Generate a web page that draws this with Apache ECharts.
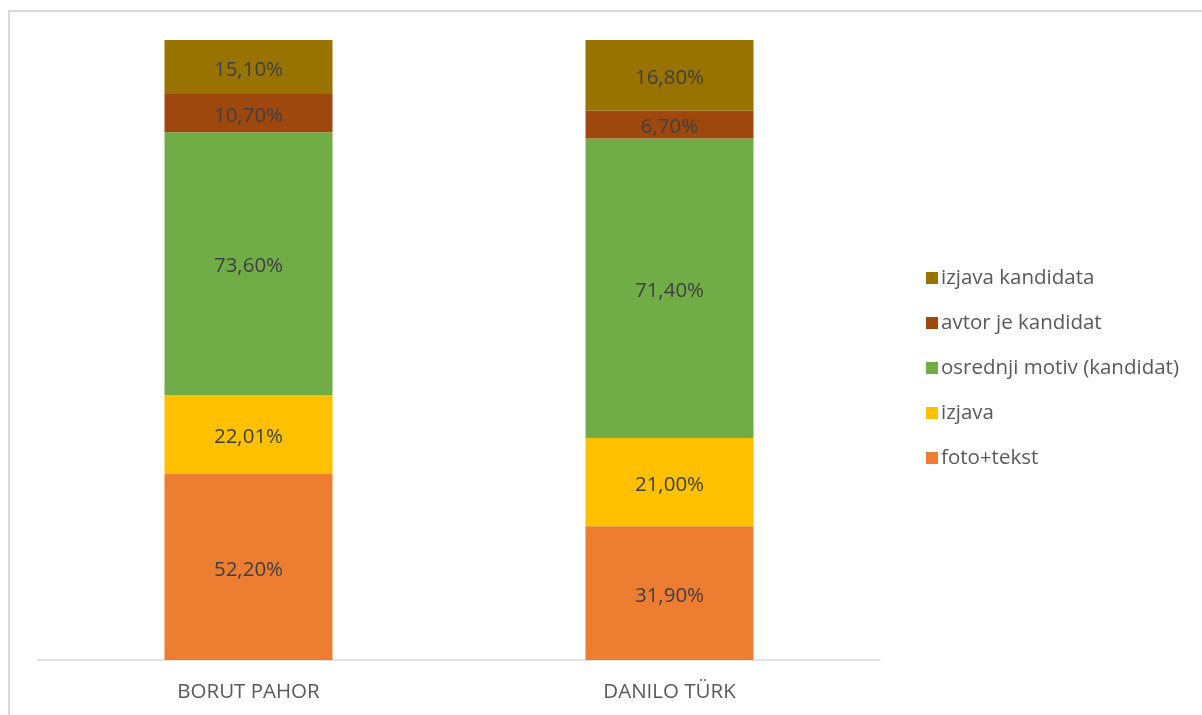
<!DOCTYPE html>
<html><head><meta charset="utf-8">
<script src="https://cdn.jsdelivr.net/npm/echarts@6/dist/echarts.min.js"></script>
<style>html,body{margin:0;padding:0;background:#fff}#c{width:1202px;height:715px}</style>
</head><body><div id="c"></div>
<script>
const categories = ['BORUT PAHOR', 'DANILO TÜRK'];
const seriesNames = ['foto+tekst', 'izjava', 'osrednji motiv (kandidat)', 'avtor je kandidat', 'izjava kandidata'];
const fotoTekst = [52.20, 31.90];
const izjava = [22.01, 21.00];
const osrednjiMotiv = [73.60, 71.40];
const avtorKandidat = [10.70, 6.70];
const izjavaKandidata = [15.10, 16.80];
const colors = ['#ED7D31', '#FFC000', '#70AD47', '#9E480E', '#997300'];

const raw = [fotoTekst, izjava, osrednjiMotiv, avtorKandidat, izjavaKandidata];
const totals = categories.map((_, i) => raw.reduce((s, a) => s + a[i], 0));
const font = '"Open Sans", sans-serif';
const fs = 20.5;

const chart = echarts.init(document.getElementById('c'));
chart.setOption({
  animation: false,
  textStyle: { fontFamily: font },
  grid: { left: 38, right: 322, top: 40, bottom: 55 },
  graphic: [{ type: 'rect', shape: { x: 9, y: 11, width: 1300, height: 800 },
    style: { fill: 'none', stroke: '#d9d9d9', lineWidth: 2 }, silent: true }],
  xAxis: {
    type: 'category', data: categories,
    axisLine: { lineStyle: { color: '#d9d9d9', width: 1.5 } },
    axisTick: { show: false },
    axisLabel: { color: '#595959', fontSize: fs, fontFamily: font, margin: 22 }
  },
  yAxis: { type: 'value', min: 0, max: 100, show: false, splitLine: { show: false } },
  legend: {
    orient: 'vertical', left: 921, top: 261,
    data: seriesNames.slice().reverse(),
    icon: 'rect', itemWidth: 12, itemHeight: 12, itemGap: 21,
    textStyle: { color: '#595959', fontSize: fs, fontFamily: font, lineHeight: 24, padding: [0, 0, 0, -2] }
  },
  series: raw.map((arr, k) => ({
    name: seriesNames[k], type: 'bar', stack: 'total', barWidth: 168,
    itemStyle: { color: colors[k] },
    label: {
      show: true, position: 'inside', offset: [0, 3], color: '#404040', fontSize: fs, fontFamily: font,
      formatter: p => arr[p.dataIndex].toFixed(2).replace('.', ',') + '%'
    },
    data: arr.map((v, i) => v / totals[i] * 100)
  }))
});
</script></body></html>
